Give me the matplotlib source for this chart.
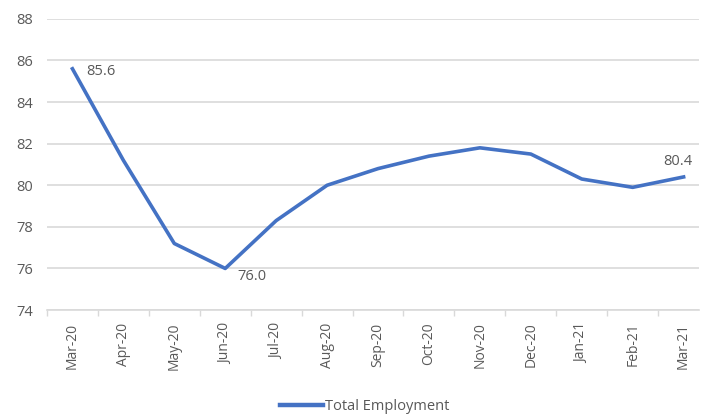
import matplotlib
matplotlib.use("Agg")
import matplotlib.pyplot as plt
import numpy as np

months = ["Mar-20", "Apr-20", "May-20", "Jun-20", "Jul-20", "Aug-20", "Sep-20",
          "Oct-20", "Nov-20", "Dec-20", "Jan-21", "Feb-21", "Mar-21"]
employment = [85.6, 81.2, 77.2, 76.0, 78.3, 80.0, 80.8, 81.4, 81.8, 81.5, 80.3, 79.9, 80.4]
y_ticks = [74, 76, 78, 80, 82, 84, 86, 88]

plt.rcParams["font.family"] = ["Open Sans", "DejaVu Sans"]
text_color = "#595959"
line_color = "#4472C4"
grid_color = "#D9D9D9"

fig = plt.figure(figsize=(7.01, 4.19), dpi=100)
ax = fig.add_axes([0.067, 0.26, 0.93, 0.695])

x = np.arange(len(months))
ax.plot(x, employment, color=line_color, linewidth=2.6, solid_joinstyle="round",
        label="Total Employment")

ax.set_ylim(74, 88)
ax.set_yticks(y_ticks)
ax.set_xlim(-0.45, 12.3)
ax.set_xticks(x)
ax.set_xticklabels(months, rotation=90, fontsize=10, color=text_color)
ax.set_yticklabels([str(v) for v in y_ticks], fontsize=10.5, color=text_color)
ax.tick_params(axis="y", length=0, pad=10)
ax.tick_params(axis="x", length=0, pad=9)

ax.grid(axis="y", color=grid_color, linewidth=1.2)
ax.set_axisbelow(True)
for side in ["top", "right", "left"]:
    ax.spines[side].set_visible(False)
ax.spines["bottom"].set_color(grid_color)
ax.spines["bottom"].set_linewidth(1.2)

# small category-boundary ticks under the baseline
ax.set_xticks(np.arange(-0.5, 12.5, 1.0), minor=True)
ax.tick_params(axis="x", which="minor", length=4, color=grid_color, width=1)

# value labels
label_idx = [0, 3, 12]
offsets = {0: (10, -2), 3: (9, -6), 12: (-4, 11)}
for i in label_idx:
    dx, dy = offsets[i]
    ha = "left" if i != 12 else "center"
    ax.annotate(f"{employment[i]:.1f}", (x[i], employment[i]), xytext=(dx, dy),
                textcoords="offset points", fontsize=10.5, color=text_color,
                ha=ha, va="center")

leg = fig.legend(loc="lower center", bbox_to_anchor=(0.52, -0.02), frameon=False,
                 fontsize=10.5, handlelength=3.0, handletextpad=0.1)
for t in leg.get_texts():
    t.set_color(text_color)
for h in leg.get_lines():
    h.set_linewidth(3.2)

fig.savefig("out.png", dpi=100)
